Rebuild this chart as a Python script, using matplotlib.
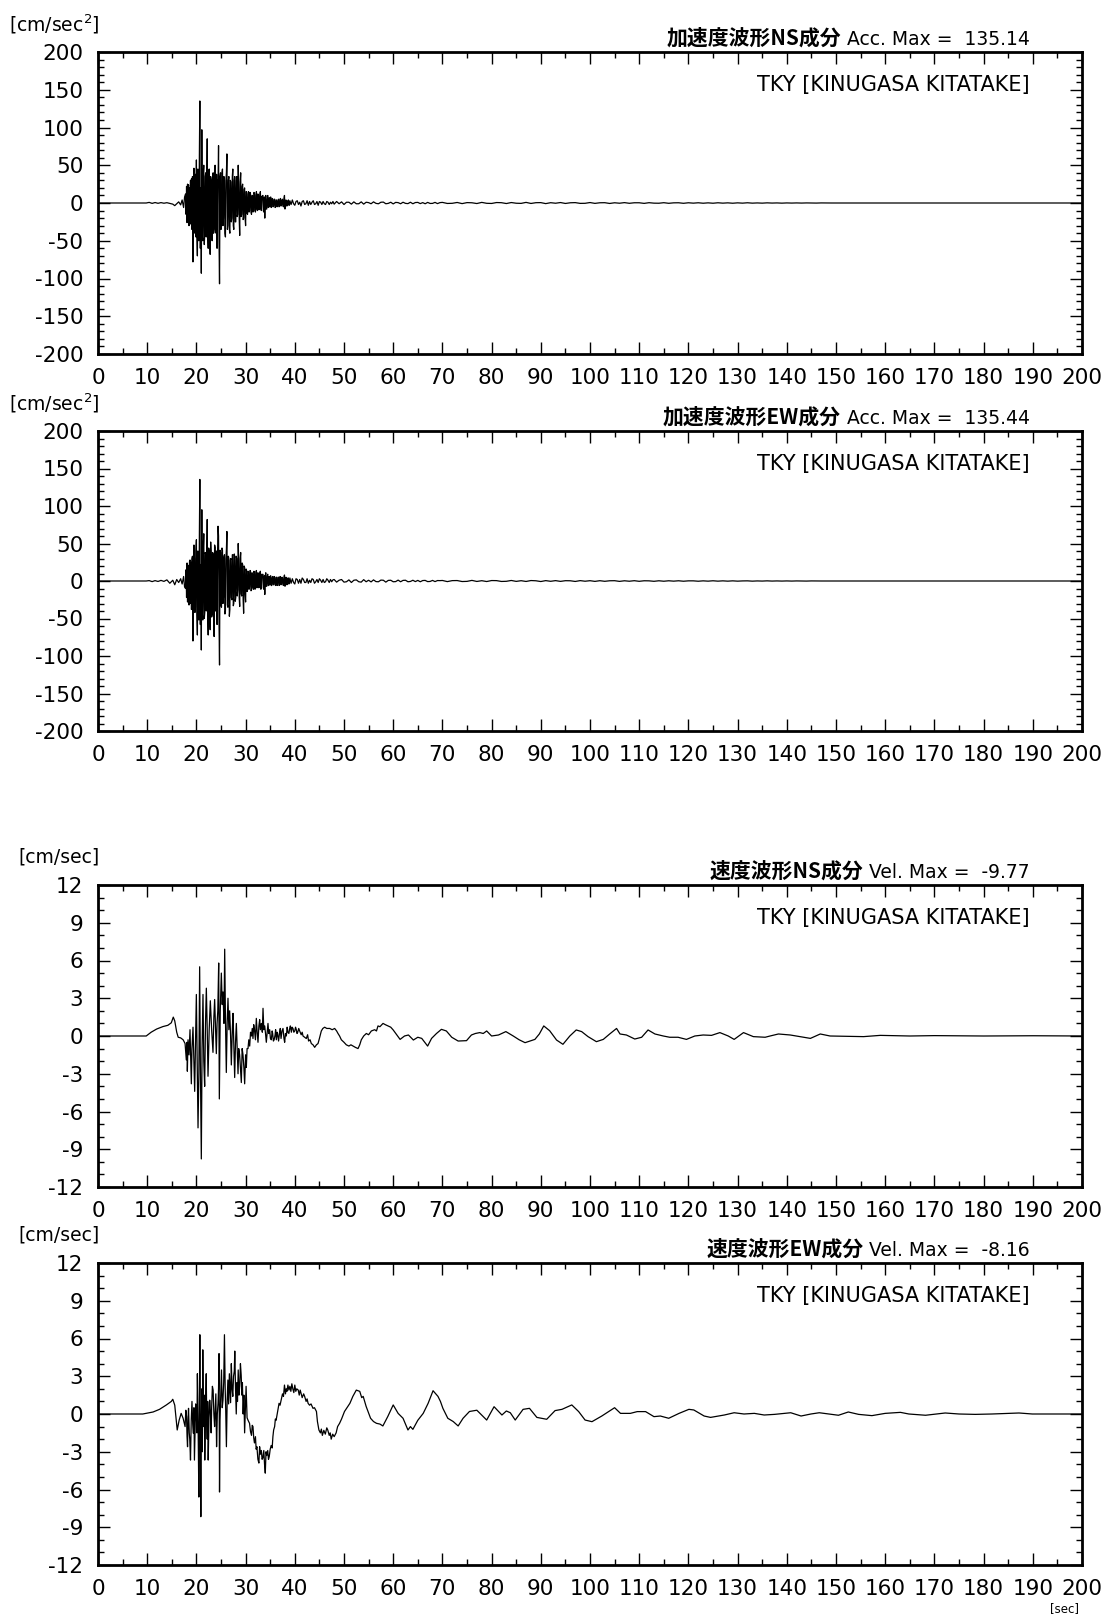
import matplotlib
matplotlib.use("Agg")
import matplotlib.pyplot as plt
from matplotlib.ticker import MultipleLocator
from matplotlib.transforms import offset_copy

plt.rcParams['font.family'] = ['DejaVu Sans', 'Noto Sans CJK JP']
plt.rcParams['axes.unicode_minus'] = False
plt.rcParams['mathtext.default'] = 'regular'

# ---- acceleration records [cm/sec^2] ----
# quiet part before the arrival (irregular times)
acc_pre_t = [0, 9.8, 10.4, 11.0, 11.6, 12.2, 12.8, 13.4, 14.0, 14.6, 15.2, 15.6, 16.0, 16.4, 16.8, 17.1, 17.4, 17.6]
acc_ns_pre = [0, 0, 0.8, -0.5, 0.6, -0.4, 0.5, -0.3, 0.4, -0.5, -1.5, -3.5, -1, 1.5, -2.5, 4, -6, 8]
acc_ew_pre = [0, 0, 0.5, -0.8, 0.5, -0.6, 0.8, -0.5, 1.5, -3, 1, -5, 2, -2, 3, -4, 6, -8]

# strong motion, one value every 0.1 s from 17.8 s
acc_ns_main = [
    12, -15,
    22, -26, 25, -18, 24, -30, 20, -28, 30, -24,
    32, -35, 35, -78, 30, 46, -30, -40, 38, -45,
    57, -40, -70, 45, 30, -50, 60, 135.14, -60, 20,
    -93, 97, -45, -50, 40, 50, -55, -40, 35, 40,
    -45, 30, 85, -35, -60, 40, 45, -40, -68, 35,
    30, -45, -50, 35, 40, -40, -35, 45, 50, -35,
    -40, 38, -60, 30, 25, 76, -50, -107, 35, 40,
    -35, -30, 40, 45, -30, -20, 35, 30, -40, -45,
    30, 40, 65, -35, -30, 30, 35, -35, -40, 30,
    28, -25, -20, 35, 45, -30, -35, 30, 35, -25,
    -25, 30, 35, -18, -15, 50, 25, -20, -43, 28,
    40, -18, -15, 22, 25, -22, -20, 18, 20, -20,
    -30, 15, 15, -14, -15, 12, 15, -12, -10, 14,
    12, -12, -15, 10, 10, -12, -10, 14, 12, -10,
    -12, 10, 15, -8, -10, 12, 10, -9, -8, 10,
    15, -8, -10, 9, 8, 10, -10, -12, 8, -20,
    6, 10, -8, -8, 6, 10, -6, -5, 7, -5,
    5, 8, -6, -5, 6, 5, -5, -4, 5, 5,
    -6, -5, 4, 4, -5, -4, 4, 5, -5, -4,
    5, 6, -4, -3, 4, 5, -4, -5, 6, 10,
    -8, -5, 4, 3, -4, -3, 3, 4, -3, -3,
]
acc_ew_main = [
    -10, 15,
    -22, 24, -28, 21, -20, -32, 26, 28, -30, 25,
    -38, 30, 33, -80, -35, 48, 30, -42, -35, 40,
    55, -45, -72, 40, 28, -52, 58, 135.44, -58, 22,
    -92, 95, -48, -52, 42, 63, -50, -42, 38, 36,
    -40, 32, 82, -38, -72, 44, 40, -45, -65, 52,
    35, -48, -45, 38, 36, -44, -74, 48, 45, -40,
    -38, 40, -58, 35, 73, 60, -55, -112, 41, 38,
    -32, -35, 44, 41, -30, -22, 32, 35, -44, -40,
    30, 42, 66, -32, -35, 33, 30, -47, -38, 28,
    30, -22, -25, 35, 35, -33, -30, 36, 32, -27,
    -22, 33, 30, -20, -12, 50, 28, -22, -34, 30,
    38, -17, -20, 24, 22, -25, -43, 20, 18, -18,
    -28, 16, 14, -14, -12, 13, 12, -11, -8, 14,
    13, -13, -12, 11, 9, -9, -11, 13, 10, -11,
    -10, 12, 14, -9, -8, 11, 9, -9, -7, 11,
    13, -11, -8, 9, 7, 9, -9, -11, 7, -18,
    7, 11, -7, -7, 7, 9, -6, -6, 6, -5,
    6, 7, -6, -6, 5, 6, -5, -5, 6, 5,
    -5, -6, 5, 5, -6, -4, 5, 5, -6, -5,
    6, 5, -5, -4, 5, 4, -5, -6, 5, 8,
    -7, -5, 5, 4, -5, -4, 4, 4, -4, -3,
]
# coda: every 0.25 s from 39 s
acc_ns_coda1 = [3, -2, 4, -1, -3, 2, 3, -2, 1, -4, 2, 3, -2, -1, 3, -3, 2, -2, 1, 3, -2, -1, 2, -3,
                2, 1, -2, 2, -1, -2, 2, 1, -2, 1, -1, 2]
acc_ew_coda1 = [4, -3, 3, -2, -4, 3, 2, -3, 2, -3, 4, 2, -2, -2, 3, -3, 1, -2, 3, 2, -3, -1, 2, -2,
                3, 1, -2, 2, -2, -1, 3, 1, -2, 2, -1, 1.5]
# every 0.5 s from 48 s
acc_ns_coda2 = [-1.5, 2, -1, 1.5, -2, 1, 1, -1.5, 1.5, -1, -1, 1.5, -1.5, 1, 0.5, -1, 1.5, -0.5, -1, 1,
                1.2, -1, -0.5, 1, -1.2, 0.8, 0.5, -1, 1, -0.5, -0.8, 1, -1, 0.6, 0.8, -0.8, 0.5, -1,
                0.8, -0.6, -0.5, 0.8, -0.8, 0.5]
acc_ew_coda2 = [2, -1.5, 1, 2, -1.5, -1, 1.5, -2, 1, 1.5, -1, -1.5, 1.8, -1, 1, -1.2, 1.5, -0.8, -1, 1.2,
                1, -1.5, 0.8, 1, -1, -0.8, 1.2, -1, 0.8, 1, -1, -0.6, 1, -0.8, 0.8, -1, 0.6, 0.8,
                -0.8, -0.6, 0.8, -0.8, 0.6, 0.5]
# every 1 s from 70 s
acc_ns_coda3 = [0.8, -0.6, -0.4, 0.7, -0.8, 0.5, 0.3, -0.7, 0.8, -0.4, -0.6, 0.6, 0.4, -0.7, 0.6, -0.3,
                -0.5, 0.8, -0.6, 0.4, 0.5, -0.8, 0.4, -0.3, 0.6, -0.6, 0.3, 0.5, -0.5, -0.4, 0.6, -0.5,
                0.3, 0.4, -0.6, 0.3, -0.3, 0.5, -0.4, 0.3, 0.3, -0.5, 0.4, -0.2, -0.3, 0.4, -0.4, 0.2,
                0.3, -0.4, 0.3, -0.2, 0.3, -0.3, 0.2, -0.3, 0.3, -0.2, 0.2, -0.3, 0.2, -0.2, 0.3, -0.2,
                0.1, -0.2, 0.2, -0.1, 0.1, -0.2, 0.1, -0.1, 0.1, -0.1, 0.1, 0, -0.1, 0.1, 0, 0]
acc_ew_coda3 = [0.7, -0.8, 0.5, 0.6, -0.7, -0.5, 0.8, -0.6, 0.4, -0.7, 0.6, 0.5, -0.6, -0.4, 0.7, -0.5,
                0.4, -0.6, 0.6, 0.3, -0.7, 0.5, -0.4, 0.5, -0.5, 0.4, 0.3, -0.6, 0.5, -0.3, 0.4, -0.5,
                0.4, -0.4, 0.3, 0.4, -0.5, 0.3, -0.3, 0.4, -0.4, 0.3, 0.2, -0.4, 0.3, -0.3, 0.3, -0.2,
                0.3, -0.3, 0.2, 0.2, -0.3, 0.2, -0.2, 0.3, -0.2, 0.2, -0.2, 0.2, -0.2, 0.1, 0.2, -0.2,
                0.1, -0.1, 0.2, -0.1, 0.1, -0.1, 0.1, -0.1, 0.1, 0, -0.1, 0.1, 0, 0, 0, 0]

# ---- velocity records [cm/sec], (time, value) ----
vel_ns_t = [
    0, 9.8, 10.8, 11.9, 13.2, 14.2, 14.9, 15.3, 15.6, 16.0, 16.3, 16.8, 17.3, 17.7, 17.95, 18.1, 18.16,
    18.3, 18.5, 18.7, 18.97, 19.1, 19.31, 19.5, 19.65, 19.8, 19.99, 20.15, 20.33, 20.5, 20.66, 20.8, 21.0,
    21.15, 21.34, 21.5, 21.68, 21.85, 22.02, 22.2, 22.36, 22.6, 22.83, 23.1, 23.37, 23.55, 23.71, 23.9,
    24.05, 24.2, 24.35, 24.53, 24.66, 24.85, 25.07, 25.25, 25.41, 25.6, 25.75, 25.9, 26.08, 26.25, 26.42,
    26.6, 26.76, 26.95, 27.1, 27.3, 27.44, 27.6, 27.78, 27.95, 28.12, 28.3, 28.46, 28.6, 28.79, 28.95,
    29.13, 29.3, 29.47, 29.65, 29.81, 30.0, 30.15, 30.3, 30.49, 30.65, 30.83, 31.0, 31.2, 31.35, 31.5,
    31.65, 31.8, 32.0, 32.18, 32.35, 32.52, 32.7, 32.86, 33.0, 33.2, 33.4, 33.54, 33.7, 33.88, 34.05,
    34.21, 34.4, 34.55, 34.7, 34.89, 35.05, 35.23, 35.4, 35.5, 35.65, 35.8, 36.0, 36.1, 36.25, 36.4,
    36.5, 36.7, 36.92, 37.05, 37.2, 37.4, 37.6, 37.8, 37.94, 38.1, 38.28, 38.45, 38.6, 38.8, 38.96,
    39.1, 39.3, 39.45, 39.63, 39.8, 40.0, 40.15, 40.31, 40.45, 40.6, 40.8, 40.99, 41.3, 41.5, 41.67,
    42.0, 42.34, 42.6, 42.8, 43.1, 43.36, 43.7, 44.04, 44.4, 44.72, 45.0, 45.39, 45.7, 46.07, 46.5,
    47.09, 47.6, 48.1, 48.5, 48.78, 49.1, 49.46, 50.0, 50.47, 51.0, 51.4, 51.83, 52.3, 52.85, 53.2,
    53.52, 54.0, 54.54, 55.0, 55.56, 56.23, 56.6, 56.91, 57.3, 57.93, 58.4, 58.94, 59.5, 60.0, 61.4,
    62.3, 63.1, 64.1, 65.0, 65.8, 67.0, 67.8, 68.8, 69.8, 70.8, 71.9, 73.2, 74.9, 75.9, 76.7, 77.6,
    78.3, 79.0, 80.0, 81.4, 82.9, 84.4, 85.6, 86.8, 88.8, 89.7, 90.6, 91.8, 93.2, 94.5, 95.9, 97.2,
    98.3, 99.6, 101.3, 102.7, 104.0, 105.4, 106.1, 107.4, 109.1, 110.5, 111.8, 113.2, 114.9, 116.2,
    117.9, 119.6, 121.3, 123.0, 124.7, 126.4, 128.1, 129.3, 131.2, 133.2, 135.6, 136.6, 138.3, 140.7,
    142.7, 144.8, 146.8, 148.8, 155.6, 159.0, 165, 170, 180, 190, 200,
]
vel_ns = [
    0, 0, 0.3, 0.55, 0.75, 0.85, 1.05, 1.5, 1.2, 0.3, -0.1, -0.15, -0.3, -0.6, -1.9, -0.5, -2.8,
    -0.3, -1.5, 0.5, -3.8, -1.0, 0.7, -2.0, -4.4, -1.0, 3.3, -2.0, -7.3, -3.0, 5.5, -2.0, -9.77,
    -1.0, 3.3, -2.0, -4.0, 1.0, 3.8, 0.5, -3.2, 0.5, 2.8, 0.5, -1.3, 1.5, 2.9, 0.5,
    -1.4, 1.0, 2.0, 5.8, -5.0, 2.0, 5.0, 2.5, 3.5, 1.0, 6.9, 1.5, -2.9, 1.0, 3.0,
    0.5, 2.0, 0.0, -2.3, 0.5, 1.8, -0.5, -3.3, -0.5, 1.0, -1.0, -3.0, -1.0, -1.5, -2.5,
    -3.7, -1.0, -1.5, -2.5, -3.8, -1.5, -2.5, -1.0, -1.0, -0.3, -0.8, 0.3, 0.0, 0.6, -0.2,
    0.9, 0.5, -0.3, 1.4, 0.3, -0.5, 0.8, 1.3, 0.5, 1.0, 0.3, 2.2, 0.5, 0.8, 0.2,
    -0.5, 0.3, 1.0, 0.2, 0.5, -0.2, -0.3, 0.4, 0.2, -0.4, -0.3, 0.1, 0.5, -0.3, 0.3,
    0.2, -0.4, 0.3, 0.6, -0.2, 0.4, 0.6, -0.2, -0.5, 0.2, 0.0, 0.7, 0.3, 0.2, 0.6,
    0.8, 0.3, 0.7, 0.6, 0.3, 0.4, 0.7, 0.5, 0.2, 0.3, 0.6, 0.4, 0.1, 0.3, 0.0,
    -0.1, -0.2, 0.1, -0.4, -0.3, -0.6, -0.7, -0.9, -0.7, -0.6, -0.2, 0.4, 0.6, 0.7, 0.6,
    0.6, 0.5, 0.6, 0.4, 0.2, 0.0, -0.3, -0.5, -0.7, -0.8, -0.7, -0.8, -0.9, -1.0, -0.7,
    -0.3, 0.0, 0.2, 0.1, 0.4, 0.5, 0.4, 0.8, 0.74, 1.0, 0.9, 0.8, 0.7, 0.48, -0.27,
    0.0, 0.08, -0.32, -0.1, -0.19, -0.8, -0.19, 0.2, 0.53, 0.4, -0.1, -0.4, -0.37, 0.08, 0.2, 0.27,
    0.2, 0.4, 0.0, 0.08, 0.35, 0.0, -0.3, -0.53, -0.27, 0.16, 0.8, 0.42, -0.32, -0.66, 0.0, 0.48,
    0.35, -0.05, -0.45, -0.27, 0.16, 0.6, 0.16, 0.08, -0.24, -0.1, 0.48, 0.16, 0.0, -0.1,
    -0.1, -0.27, 0.0, 0.08, 0.05, 0.27, 0.0, -0.27, 0.27, -0.05, -0.1, 0.0, 0.16, 0.08,
    -0.05, -0.19, 0.16, 0.0, -0.05, 0.05, 0, 0.03, 0, 0.02, 0,
]
vel_ew_pts = [
    (0, 0), (9.1, 0), (11.2, 0.16), (12.5, 0.37), (13.9, 0.72), (14.9, 1.0), (15.2, 1.17), (15.6, 0.7),
    (16.1, -1.27), (16.5, -0.48), (16.9, 0.05), (17.3, -0.34), (17.7, -1.0), (17.85, 0.3), (18.0, -0.2),
    (18.1, -1.8), (18.2, -2.6), (18.3, -0.5), (18.4, 0.45), (18.55, -1.5), (18.65, -2.0), (18.8, -3.66),
    (18.95, -0.5), (19.1, 1.0), (19.25, -0.8), (19.4, -1.54), (19.5, 0.5), (19.6, -3.66), (19.75, -1.0),
    (19.85, 0.8), (20.0, 0.0), (20.1, -1.5), (20.2, 3.2), (20.35, -1.0), (20.5, -6.6), (20.6, 0.5),
    (20.7, 6.3), (20.8, -2.0), (20.9, -8.16), (21.0, -1.0), (21.1, 2.0), (21.2, -3.0), (21.3, 5.1),
    (21.4, 0.5), (21.5, -1.0), (21.6, 1.5), (21.7, -3.66), (21.85, 0.5), (22.0, 3.2), (22.1, -0.5),
    (22.2, -2.0), (22.3, 1.0), (22.4, -3.66), (22.55, -0.5), (22.7, 1.1), (22.85, 0.2), (23.0, -1.5),
    (23.1, 0.5), (23.25, 2.2), (23.4, 1.9), (23.55, 0.0), (23.7, -1.0), (23.85, 0.5), (23.95, 1.6),
    (24.1, -2.6), (24.25, 0.0), (24.4, 0.85), (24.5, 2.0), (24.6, 4.8), (24.7, -6.2), (24.8, -0.5),
    (24.95, 1.5), (25.1, 3.5), (25.25, 0.5), (25.4, 1.1), (25.55, 2.5), (25.7, 6.3), (25.85, 2.0),
    (25.95, 0.5), (26.1, -2.6), (26.25, 1.0), (26.4, 2.7), (26.55, 0.8), (26.7, 3.2), (26.8, 2.2),
    (26.95, 0.9), (27.1, 4.0), (27.25, 2.0), (27.4, 1.4), (27.55, 3.0), (27.7, 3.4), (27.8, 5.0),
    (27.95, 2.0), (28.1, 0.0), (28.25, 2.5), (28.35, 1.0), (28.5, 3.5), (28.65, 1.5), (28.8, 2.2),
    (28.95, 4.0), (29.1, 3.1), (29.25, 1.5), (29.35, 2.5), (29.5, 0.0), (29.65, 1.5), (29.8, -1.5),
    (29.95, 0.5), (30.1, 2.2), (30.3, -0.3), (30.5, -0.5), (30.8, -0.74), (31.0, -1.4), (31.2, -1.7),
    (31.35, -0.9), (31.5, -1.0), (31.65, -1.9), (31.8, -2.3), (32.0, -1.8), (32.15, -2.8), (32.3, -2.6),
    (32.5, -3.6), (32.7, -3.9), (32.85, -2.6), (33.0, -3.2), (33.2, -2.9), (33.35, -3.6), (33.5, -3.5),
    (33.7, -2.9), (33.85, -4.0), (34.0, -4.7), (34.15, -3.0), (34.3, -3.3), (34.5, -2.9), (34.65, -3.6),
    (34.8, -3.4), (35.0, -2.8), (35.2, -2.5), (35.4, -2.7), (35.55, -1.8), (35.7, -1.27), (35.9, -1.0),
    (36.05, -0.4), (36.2, -0.5), (36.5, 0.2), (36.8, 0.85), (37.0, 0.7), (37.3, 1.25), (37.5, 1.6),
    (37.7, 1.4), (37.9, 2.3), (38.1, 1.6), (38.25, 2.0), (38.4, 1.8), (38.6, 2.3), (38.8, 1.9),
    (39.0, 2.2), (39.2, 1.8), (39.4, 2.4), (39.6, 2.0), (39.8, 1.7), (40.0, 2.3), (40.2, 1.8),
    (40.4, 2.0), (40.7, 1.9), (40.9, 1.5), (41.1, 1.9), (41.3, 1.6), (41.5, 1.3), (41.8, 1.6),
    (42.0, 1.4), (42.3, 1.0), (42.5, 1.2), (42.7, 0.85), (43.0, 0.7), (43.3, 0.8), (43.7, 0.45),
    (44.0, 0.5), (44.4, 0.2), (44.6, -0.6), (44.9, -1.27), (45.2, -1.5), (45.4, -1.2), (45.6, -1.7),
    (45.9, -1.3), (46.2, -1.6), (46.5, -1.1), (46.7, -1.27), (47.0, -1.7), (47.2, -1.5), (47.4, -2.0),
    (47.7, -1.6), (48.0, -1.8), (48.4, -1.5), (48.7, -1.0), (49.1, -0.74), (49.5, -0.4), (50.1, 0.2),
    (50.6, 0.5), (51.2, 0.85), (51.8, 1.4), (52.5, 1.9), (53.2, 1.8), (53.6, 1.3), (53.9, 1.4),
    (54.5, 0.6), (55.4, -0.34), (56.0, -0.6), (56.6, -0.74), (57.3, -0.8), (57.9, -0.95), (58.9, -0.2),
    (60.0, 0.72), (61.0, 0.05), (62.0, -0.34), (63.0, -1.27), (63.5, -1.0), (64.0, -1.22), (65.0, -0.5),
    (66.1, 0.05), (67.1, 0.85), (68.1, 1.85), (69.1, 1.4), (69.6, 1.0), (70.1, 0.45), (71.1, -0.34),
    (72.2, -0.6), (73.2, -0.95), (74.2, -0.34), (75.5, 0.2), (77.0, 0.3), (79.0, -0.48), (80.5, 0.58),
    (82.1, -0.08), (83.0, 0.24), (83.8, 0.1), (84.8, -0.48), (86.4, 0.37), (87.7, 0.45), (89.2, -0.27),
    (91.2, -0.42), (92.9, 0.27), (94.3, 0.37), (96.3, 0.72), (97.7, 0.19), (99.0, -0.48), (100.4, -0.61),
    (102.4, -0.16), (103.8, 0.19), (105.0, 0.5), (106.2, 0.05), (108.2, 0.05), (109.6, 0.19),
    (111.3, 0.19), (113.0, -0.21), (114.3, -0.16), (116.0, -0.34), (118.1, 0.05), (120.1, 0.37),
    (121.1, 0.32), (123.2, -0.16), (124.5, -0.27), (127.3, -0.08), (129.3, 0.1), (131.3, 0.0),
    (133.4, 0.05), (135.4, -0.08), (137.5, -0.03), (139.5, 0.05), (140.8, 0.1), (142.9, -0.16),
    (144.9, 0.0), (146.6, 0.1), (150.5, -0.1), (152.5, 0.16), (154.6, -0.03), (157.3, -0.13),
    (160.0, 0.05), (163.1, 0.13), (164.8, 0.0), (168.2, -0.1), (172.2, 0.08), (175.0, 0.0),
    (178.3, -0.03), (181.7, 0.0), (187.2, 0.08), (189.9, 0.0), (200, 0),
]
vel_ew_t = [p[0] for p in vel_ew_pts]
vel_ew = [p[1] for p in vel_ew_pts]

components = ["加速度波形NS成分", "加速度波形EW成分", "速度波形NS成分", "速度波形EW成分"]
max_labels = [" Acc. Max =  135.14", " Acc. Max =  135.44", " Vel. Max =  -9.77", " Vel. Max =  -8.16"]
units = ["[cm/sec$^2$]", "[cm/sec$^2$]", "[cm/sec]", "[cm/sec]"]
station = "TKY [KINUGASA KITATAKE]"


def sampled(t0, dt, vals):
    # time stamps of a uniformly sampled stretch of record
    return [t0 + k * dt for k in range(len(vals))]


acc_t = (acc_pre_t + sampled(17.8, 0.1, acc_ns_main) + sampled(39.0, 0.25, acc_ns_coda1)
         + sampled(48.0, 0.5, acc_ns_coda2) + sampled(70.0, 1.0, acc_ns_coda3) + [200])
acc_ns = acc_ns_pre + acc_ns_main + acc_ns_coda1 + acc_ns_coda2 + acc_ns_coda3 + [0]
acc_ew = acc_ew_pre + acc_ew_main + acc_ew_coda1 + acc_ew_coda2 + acc_ew_coda3 + [0]

W, H = 1106, 1623
fig = plt.figure(figsize=(W / 100, H / 100), dpi=100)

# panel frames in pixels (top, bottom)
frames = [(52, 354), (431, 731), (885, 1187), (1263, 1565)]
series = [(acc_t, acc_ns), (acc_t, acc_ew), (vel_ns_t, vel_ns), (vel_ew_t, vel_ew)]
yscale = [(200, 50, 10), (200, 50, 10), (12, 3, 1), (12, 3, 1)]

for i in range(4):
    top, bot = frames[i]
    ax = fig.add_axes([98 / W, 1 - bot / H, 984 / W, (bot - top) / H])
    t, y = series[i]
    ax.plot(t, y, color='black', lw=0.9)
    lim, major, minor = yscale[i]
    ax.set_xlim(0, 200)
    ax.set_ylim(-lim, lim)
    ax.xaxis.set_major_locator(MultipleLocator(10))
    ax.xaxis.set_minor_locator(MultipleLocator(5))
    ax.yaxis.set_major_locator(MultipleLocator(major))
    ax.yaxis.set_minor_locator(MultipleLocator(minor))
    ax.tick_params(which='both', direction='in', top=True, right=True, width=1.0, labelsize=15.5)
    ax.tick_params(which='major', length=8.6)
    ax.tick_params(which='minor', length=4.3)
    ax.tick_params(axis='x', pad=10)
    ax.tick_params(axis='y', pad=10.5)
    for s in ax.spines.values():
        s.set_linewidth(2)

    tr_title = offset_copy(ax.transAxes, fig=fig, x=-52, y=7, units='dots')
    latin = ax.text(1, 1, max_labels[i], transform=tr_title, ha='right', va='baseline', fontsize=13.5)
    ax.annotate(components[i], xy=(0, 1), xycoords=(latin, tr_title), ha='right', va='baseline',
                fontsize=15, fontweight='bold', family='Noto Sans CJK JP')
    ax.text(1, 1, station, transform=offset_copy(ax.transAxes, fig=fig, x=-52, y=-33, units='dots'),
            ha='right', va='center', fontsize=15)
    ax.text(0, 1, units[i], transform=offset_copy(ax.transAxes, fig=fig, x=2, y=28, units='dots'),
            ha='right', va='center', fontsize=13.5)

fig.text(1079 / W, 1 - 1609 / H, "[sec]", ha='right', va='center', fontsize=8.5)

fig.savefig("out.png", dpi=100)
